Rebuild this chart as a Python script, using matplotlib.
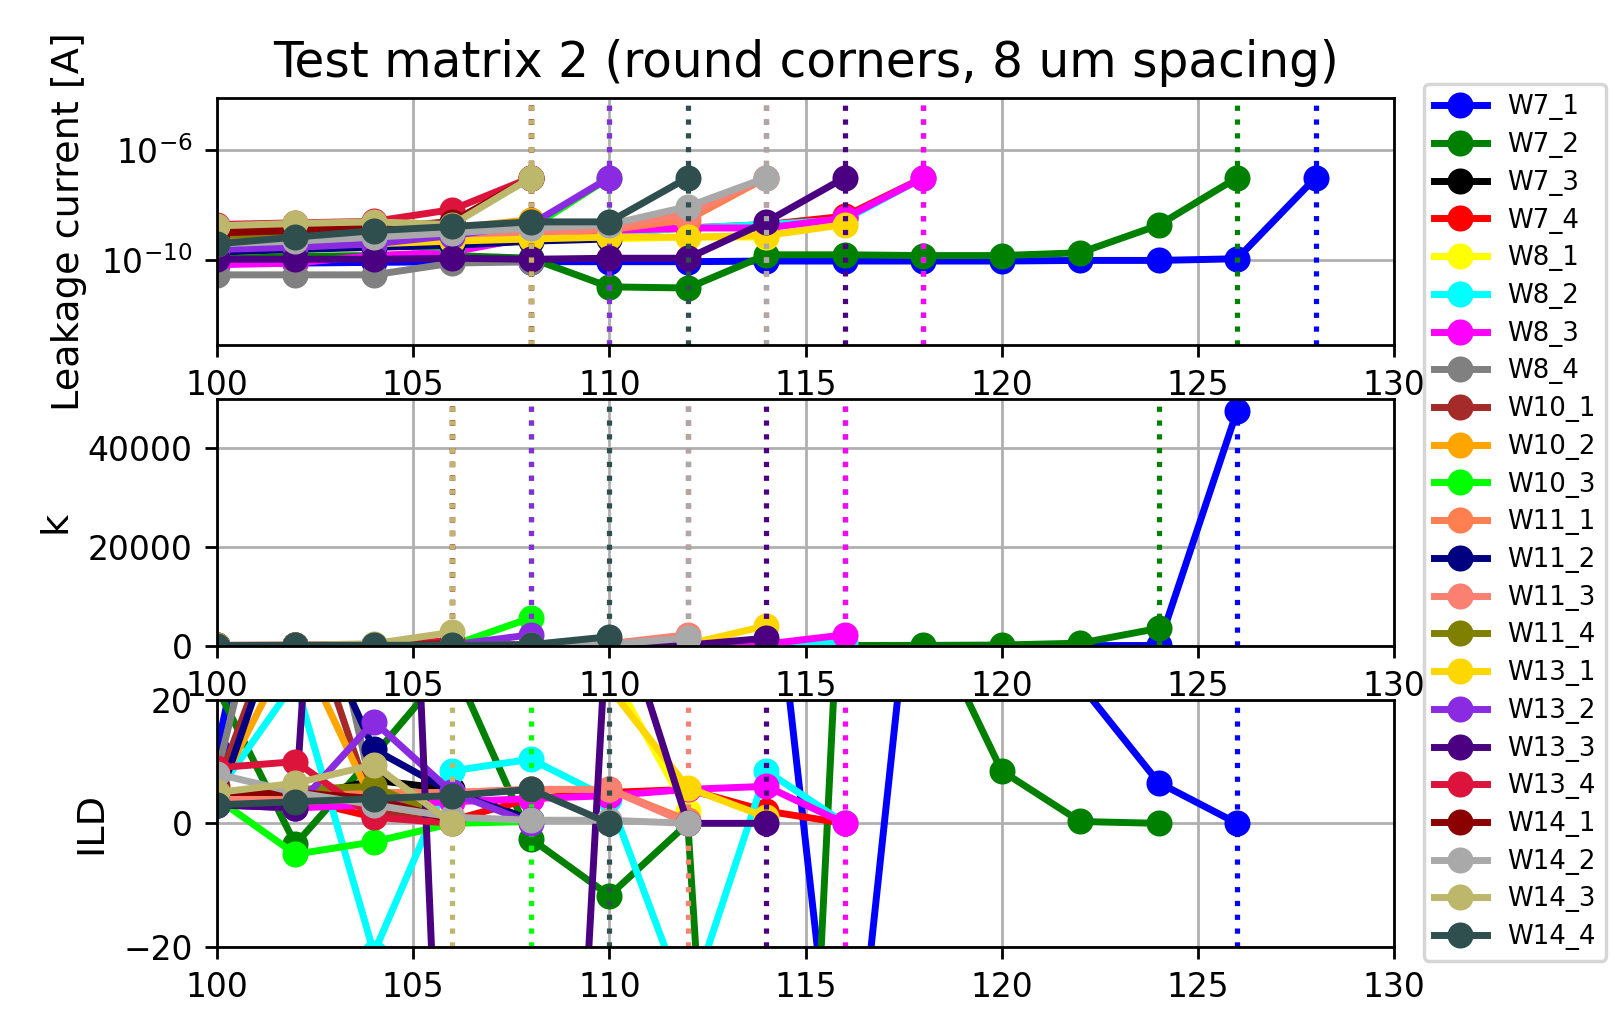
import matplotlib
matplotlib.use("Agg")
import matplotlib.pyplot as plt
from matplotlib.ticker import NullLocator

# bias voltage steps [V]
V = [100, 102, 104, 106, 108, 110, 112, 114, 116, 118, 120, 122, 124, 126, 128]

names = ["W7_1", "W7_2", "W7_3", "W7_4", "W8_1", "W8_2", "W8_3", "W8_4",
         "W10_1", "W10_2", "W10_3", "W11_1", "W11_2", "W11_3", "W11_4",
         "W13_1", "W13_2", "W13_3", "W13_4", "W14_1", "W14_2", "W14_3", "W14_4"]
colors = ["blue", "green", "black", "red", "yellow", "cyan", "magenta", "gray",
          "brown", "orange", "lime", "coral", "navy", "salmon", "olive",
          "gold", "blueviolet", "indigo", "crimson", "darkred", "darkgray",
          "darkkhaki", "darkslategray"]

# leakage current [A], starting at 100 V
leakage = {
    "W7_1": [8e-11, 8e-11, 8.5e-11, 9e-11, 9e-11, 9e-11, 9e-11, 9.5e-11, 9.5e-11, 9.5e-11, 9.5e-11, 1e-10, 1e-10, 1.15e-10, 1e-7],
    "W7_2": [1.4e-10, 1.4e-10, 1.5e-10, 1.5e-10, 1.2e-10, 1.1e-11, 1e-11, 1.6e-10, 1.6e-10, 1.5e-10, 1.5e-10, 1.9e-10, 1.9e-9, 1e-7],
    "W7_3": [6e-10, 7e-10, 8e-10, 9e-10, 1.5e-9, 2e-9],
    "W7_4": [3e-10, 3.5e-10, 4e-10, 5e-10, 7e-10, 1e-9, 1.5e-9, 2e-9, 4e-9, 1e-7],
    "W8_1": [2e-10, 2.5e-10, 3e-10, 3.5e-10, 5e-10, 6e-10, 7e-10, 7e-10],
    "W8_2": [2.5e-10, 3e-10, 3.5e-10, 4e-10, 6e-10, 1e-9, 1.5e-9, 2e-9, 3e-9, 1e-7],
    "W8_3": [7e-11, 8e-11, 1.5e-10, 2e-10, 7e-10, 1.2e-9, 1.5e-9, 1.5e-9, 3.4e-9, 1e-7],
    "W8_4": [3e-11, 3e-11, 3e-11, 8e-11, 9e-11],
    "W10_1": [1.2e-9, 1.4e-9, 1.6e-9, 2.5e-9, 1e-7],
    "W10_2": [6e-10, 7e-10, 8e-10, 1.5e-9, 3e-9],
    "W10_3": [3e-10, 3e-10, 3.5e-10, 3e-10, 1.5e-9, 1e-7],
    "W11_1": [5e-10, 5.5e-10, 6e-10, 8e-10, 1e-9, 1.3e-9, 3e-9, 1e-7],
    "W11_2": [2e-10, 2.5e-10, 3e-10, 3.5e-10, 5e-10, 6e-10],
    "W11_3": [4e-10, 4.5e-10, 5e-10, 6e-10, 9e-10, 1.5e-9, 5e-9, 1e-7],
    "W11_4": [8e-10, 9e-10, 1e-9, 1.2e-9, 2e-9],
    "W13_1": [3e-10, 3.5e-10, 4e-10, 5e-10, 6e-10, 7e-10, 7e-10, 8e-10, 2e-9],
    "W13_2": [2.5e-10, 3e-10, 4e-10, 8e-10, 2e-9, 1e-7],
    "W13_3": [1.1e-10, 1.1e-10, 1.1e-10, 1.2e-10, 1.1e-10, 1.2e-10, 1.2e-10, 2.5e-9, 1e-7],
    "W13_4": [2e-9, 2.3e-9, 2.6e-9, 7e-9, 1e-7],
    "W14_1": [1e-9, 1.2e-9, 1.5e-9, 2.5e-9, 1e-7],
    "W14_2": [4e-10, 5e-10, 7e-10, 1e-9, 1.5e-9, 2e-9, 9e-9, 1e-7],
    "W14_3": [1.8e-9, 2.2e-9, 2.5e-9, 2e-9, 1e-7],
    "W14_4": [4e-10, 7e-10, 1.2e-9, 1.7e-9, 2.5e-9, 2.5e-9, 1e-7],
}

k_values = {
    "W7_1": [2, 3, 2, 2, 3, 2, 2, 3, 2, 3, 3, 4, 30, 47500],
    "W7_2": [5, 5, 5, 5, 8, 10, 15, 20, 30, 50, 120, 500, 3500],
    "W7_3": [20, 30, 50, 80, 200],
    "W7_4": [10, 15, 20, 30, 50, 80, 150, 300, 600],
    "W8_1": [10, 15, 20, 30, 60, 100, 200],
    "W8_2": [10, 15, 20, 30, 60, 100, 200, 300, 500],
    "W8_3": [5, 10, 20, 30, 60, 100, 150, 300, 2200],
    "W8_4": [5, 8, 10, 20],
    "W10_1": [30, 50, 80, 300],
    "W10_2": [20, 30, 60, 400],
    "W10_3": [10, 20, 30, 50, 5600],
    "W11_1": [20, 30, 40, 60, 100, 300, 1200],
    "W11_2": [10, 20, 30, 50, 200],
    "W11_3": [20, 30, 40, 60, 150, 400, 2200],
    "W11_4": [30, 50, 80, 500],
    "W13_1": [10, 20, 30, 40, 50, 80, 300, 4000],
    "W13_2": [20, 30, 60, 150, 2200],
    "W13_3": [5, 5, 5, 5, 10, 20, 100, 1500],
    "W13_4": [50, 80, 150, 1000],
    "W14_1": [40, 60, 100, 400],
    "W14_2": [20, 30, 40, 60, 100, 300, 1500],
    "W14_3": [50, 80, 400, 2700],
    "W14_4": [20, 40, 60, 100, 200, 1800],
}

ild_values = {
    "W7_1": [12, 70, 45, 60, 40, 50, 35, 54, -60, 59, 40, 22.5, 6.6, 0],
    "W7_2": [22, -3.4, 11, 26, -2.5, -11.7, 0, -200, 57, 35, 8.5, 0.3, 0],
    "W7_3": [5, 4, 7, 5.5, 0.5],
    "W7_4": [5, 4, 1, 0.5, 4, 5, 5.5, 2, 0],
    "W8_1": [30, 35, 30, 40, 35, 25, 2],
    "W8_2": [5, 23, -21, 8.5, 10.4, 4, -30, 8.5, 0],
    "W8_3": [3, 2.5, 3, 3.5, 4, 4.5, 5.5, 6, 0],
    "W8_4": [8, 60, 4, 0.5],
    "W10_1": [6, 40, 2, 0.5],
    "W10_2": [5, 30, 3, 1],
    "W10_3": [4, -5, -3, 0, 0.3],
    "W11_1": [4, 4.5, 5, 5, 5.5, 5.5, 0.5],
    "W11_2": [3, 40, 12, 5, 0.5],
    "W11_3": [4, 3.5, 4, 5, 5.5, 5.5, 0],
    "W11_4": [5, 5.5, 6, 0.5],
    "W13_1": [25, 30, 28, 35, 30, 22, 5.8, 1],
    "W13_2": [3, 2.5, 16.5, 5, 0],
    "W13_3": [3, 2.5, 200, -100, -190, 40, 0, 0],
    "W13_4": [9, 10, 1, 0],
    "W14_1": [5, 5, 4, 0.5],
    "W14_2": [8, 5, 3, 1, 0.5, 0.5, 0],
    "W14_3": [5, 6.5, 9.5, 0],
    "W14_4": [3, 3.5, 4, 4.5, 5.5, 0],
}

# samples that reached breakdown (dotted marker at last point)
vline_iv = ["W7_1", "W7_2", "W7_4", "W8_2", "W8_3", "W10_1", "W10_3", "W11_1",
            "W11_3", "W13_2", "W13_3", "W13_4", "W14_1", "W14_2", "W14_3", "W14_4"]
vline_ild = ["W7_1", "W14_3", "W10_3", "W14_4", "W11_3", "W13_3", "W8_3"]

fig, axes = plt.subplots(3, 1, figsize=(6.448, 4.072), dpi=250)
fig.subplots_adjust(left=0.1346, right=0.8648, top=0.904, bottom=0.070, hspace=0.22)

panels = [(axes[0], leakage, vline_iv), (axes[1], k_values, vline_iv), (axes[2], ild_values, vline_ild)]
for ax, data, vl in panels:
    for name, c in zip(names, colors):
        y = data[name]
        x = V[:len(y)]
        ax.plot(x, y, "o-", color=c, lw=2, ms=6.5, label=name)
        if name in vl:
            ax.axvline(x[-1], color=c, ls=":", lw=1.5)
    ax.set_xlim(100, 130)
    ax.set_xticks([100, 105, 110, 115, 120, 125, 130])
    ax.grid(True, color="#b0b0b0", lw=0.8)
    ax.tick_params(labelsize=9.5)

ax = axes[0]
ax.set_yscale("log")
ax.set_ylim(10**-13.05, 10**-4.1)
ax.set_yticks([1e-10, 1e-6])
ax.yaxis.set_minor_locator(NullLocator())
ax.set_ylabel("Leakage current [A]", fontsize=11)
ax.set_title("Test matrix 2 (round corners, 8 um spacing)", fontsize=14)

axes[1].set_ylim(bottom=0)
axes[1].set_yticks([0, 20000, 40000])
axes[1].set_ylabel("k", fontsize=11)

axes[2].set_ylim(-20, 20)
axes[2].set_yticks([-20, 0, 20])
axes[2].set_ylabel("ILD", fontsize=11)

handles, labels = axes[0].get_legend_handles_labels()
fig.legend(handles, labels, loc="upper left", bbox_to_anchor=(0.8834, 0.9175),
           fontsize=7.5, labelspacing=0.45, borderaxespad=0)

plt.savefig("out.png", dpi=250)
